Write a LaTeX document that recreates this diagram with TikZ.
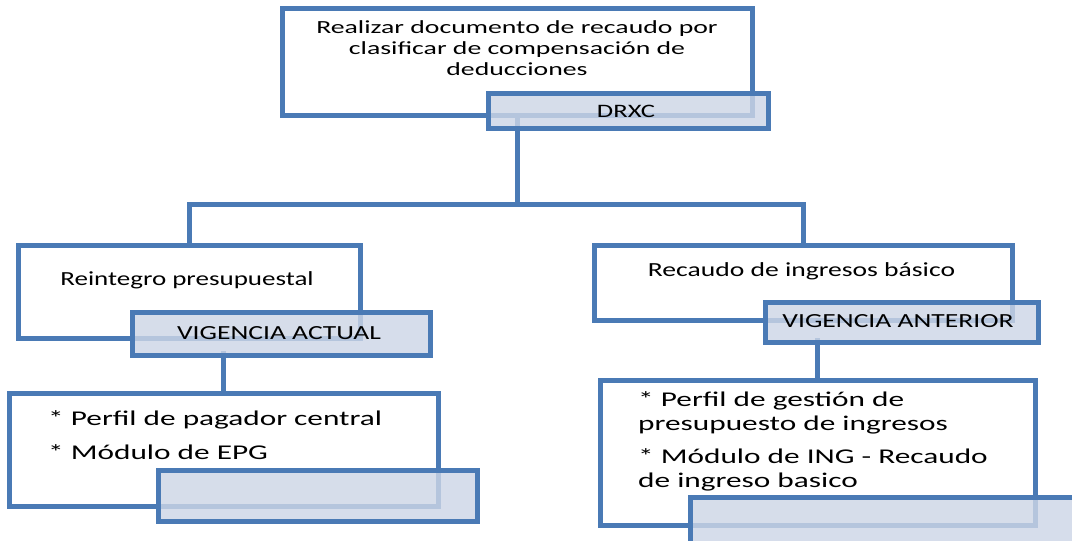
\documentclass[tikz,border=0pt]{standalone}
\usepackage{fontspec}
\setmainfont{Carlito}
\usepackage{graphicx}
\definecolor{bordc}{HTML}{4A7AB5}
\definecolor{tagc}{HTML}{CDD6E6}
\newcommand{\wide}[2]{\scalebox{#1}[1]{#2}}
\begin{document}
\begin{tikzpicture}[x=1pt,y=-1pt,
  box/.style={draw=bordc, line width=5pt, fill=white, rectangle, inner sep=0pt},
  tag/.style={draw=bordc, line width=5pt, fill=tagc, fill opacity=0.82, draw opacity=1, rectangle, inner sep=0pt},
  txt/.style={inner sep=0pt, text=black},
  link/.style={draw=bordc, line width=5pt}]
\useasboundingbox (0,0) rectangle (1072,541);
\clip (0,0) rectangle (1072,541);
% boxes (positions)
\node[box, minimum width=470pt, minimum height=107pt] (top) at (517,61.5) {};
\node[box, minimum width=342pt, minimum height=93pt] (left) at (189,291.5) {};
\node[box, minimum width=418pt, minimum height=75pt] (right) at (803,282.5) {};
\node[box, minimum width=429pt, minimum height=113pt] (bl) at (223.5,449.5) {};
\node[box, minimum width=435pt, minimum height=145pt] (br) at (817.5,452.5) {};
% connectors
\coordinate (j) at (517,204);
\draw[link] (top.south) -- (j);
\draw[link] (left.north) |- (j) -| (right.north);
\draw[link] (bl.north) -- ++(0,-40);
\draw[link] (br.north) -- ++(0,-40);
% tags
\node[tag, minimum width=280pt, minimum height=35pt] (drxc) at (628,110.5) {};
\node[tag, minimum width=298pt, minimum height=43pt] (va) at (281,333.5) {};
\node[tag, minimum width=273pt, minimum height=40pt] (vant) at (901.5,322) {};
\node[tag, minimum width=319pt, minimum height=51pt] (blt) at (317.5,495.5) {};
\node[tag, minimum width=410pt, minimum height=63pt] (brt) at (895,528.5) {};
% texts
\node[txt, anchor=base, font=\fontsize{18.5}{21}\selectfont] (t0) at (517,33)
  {\wide{1.5}{\begin{tabular}[t]{@{}c@{}}Realizar documento de recaudo por\\ clasificar de compensación de\\ deducciones\end{tabular}}};
\node[txt, anchor=base, font=\fontsize{19}{21}\selectfont] (t1) at (626,117) {\wide{1.4}{DRXC}};
\node[txt, anchor=base, font=\fontsize{20}{24}\selectfont] (t2) at (187,285) {\wide{1.35}{Reintegro presupuestal}};
\node[txt, anchor=base, font=\fontsize{20}{24}\selectfont] (t3) at (279,339) {\wide{1.38}{VIGENCIA ACTUAL}};
\node[txt, anchor=base west, font=\fontsize{21}{24}\selectfont] (t4) at (48,425)
  {\wide{1.49}{\begin{tabular}[t]{@{}l@{}}* Perfil de pagador central\\[10pt] * Módulo de EPG\end{tabular}}};
\node[txt, anchor=base, font=\fontsize{20}{24}\selectfont] (t5) at (801.5,276) {\wide{1.38}{Recaudo de ingresos básico}};
\node[txt, anchor=base, font=\fontsize{20}{24}\selectfont] (t6) at (898,327) {\wide{1.38}{VIGENCIA ANTERIOR}};
\node[txt, anchor=base west, font=\fontsize{21}{24}\selectfont] (t7) at (638,406)
  {\wide{1.49}{\begin{tabular}[t]{@{}l@{}}* Perfil de gestión de\\ presupuesto de ingresos\\[9pt] * Módulo de ING - Recaudo\\ de ingreso basico\end{tabular}}};
\end{tikzpicture}
\end{document}
